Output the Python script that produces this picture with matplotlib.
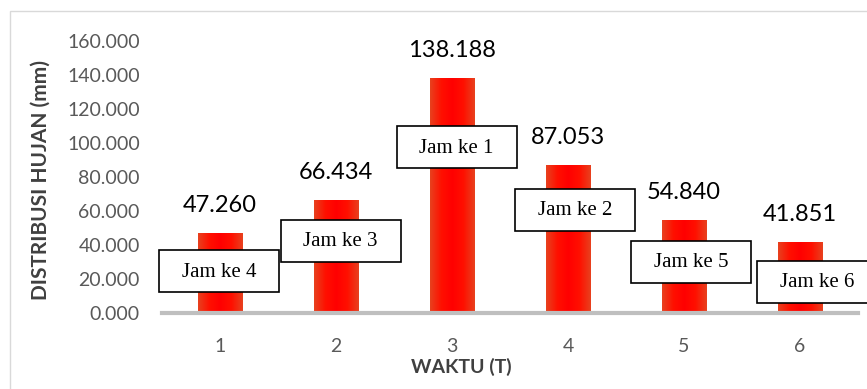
import numpy as np
import matplotlib
matplotlib.use("Agg")
from matplotlib import pyplot as plt
from matplotlib.patches import Rectangle
from matplotlib.colors import LinearSegmentedColormap

#%% data
waktu = ["1", "2", "3", "4", "5", "6"]
hujan = [47.260, 66.434, 138.188, 87.053, 54.840, 41.851]
jam_label = ["Jam ke 4", "Jam ke 3", "Jam ke 1", "Jam ke 2", "Jam ke 5", "Jam ke 6"]
# box centre (x in category units, y in mm) for each "Jam ke" tag
jam_x = [-0.01, 1.04, 2.04, 3.06, 4.06, 5.15]
jam_y = [24.5, 42.5, 97.5, 60.5, 30.0, 18.5]

plt.rcParams['font.family'] = ['Lato', 'DejaVu Sans']

#%% figure
fig = plt.figure(figsize=(8.67, 3.89), dpi=100)
fig.patches.append(Rectangle((10 / 867, -0.01), 1.0, 1 - 11 / 389 + 0.01,
                             transform=fig.transFigure, fill=False,
                             edgecolor="#D9D9D9", linewidth=1.0))
ax = fig.add_axes([162 / 867, 1 - 313 / 389, 696 / 867, 272 / 389])

x = np.arange(len(waktu))
bar_w = 0.38
bars = ax.bar(x, hujan, width=bar_w, color="none", edgecolor="none")

# red bars with darker edges
grad = LinearSegmentedColormap.from_list(
    "merah", ["#E8401E", "#FF1000", "#FF0000", "#FF1000", "#E8401E"])
row = np.linspace(0, 1, 64).reshape(1, -1)
for b in bars:
    x0, w, h = b.get_x(), b.get_width(), b.get_height()
    im = ax.imshow(row, cmap=grad, aspect="auto", extent=[x0, x0 + w, 0, h],
                   zorder=2, interpolation="bilinear")
    im.set_clip_path(b)

for xi, v in zip(x, hujan):
    ax.annotate(f"{v:.3f}", (xi, v), xytext=(0, 12), textcoords="offset points",
                ha="center", va="bottom", fontsize=17, color="black", zorder=5)

# "Jam ke" tags: fixed size white boxes
box_w = 1.035   # category units
box_h = 24.7    # mm
for xi, yi, t in zip(jam_x, jam_y, jam_label):
    ax.add_patch(Rectangle((xi - box_w / 2, yi - box_h / 2), box_w, box_h,
                           facecolor="white", edgecolor="black", linewidth=1.2,
                           zorder=6, clip_on=False))
    ax.text(xi, yi - 0.5, t, ha="center", va="center", fontsize=15,
            family=["Liberation Serif", "DejaVu Serif"], zorder=7, clip_on=False)

ax.set_xlim(-0.5, 5.5)
ax.set_ylim(0, 160)
ax.set_xticks(x)
ax.set_xticklabels(waktu)
ax.set_yticks(np.arange(0, 161, 20))
ax.set_yticklabels([f"{t:.3f}" for t in np.arange(0, 161, 20)])
ax.tick_params(axis="both", length=0, labelsize=14, colors="#595959")
ax.tick_params(axis="x", pad=18)
ax.tick_params(axis="y", pad=16)

for s in ["top", "right", "left"]:
    ax.spines[s].set_visible(False)
ax.spines["bottom"].set_color("#BFBFBF")
ax.spines["bottom"].set_linewidth(3)
ax.spines["bottom"].set_zorder(4)

ax.set_xlabel("WAKTU (T)", fontsize=14, fontweight="bold", color="#404040")
ax.xaxis.set_label_coords(0.43, -0.165)
ax.set_ylabel("DISTRIBUSI HUJAN (mm)", fontsize=15, fontweight="bold",
              color="#404040")
ax.yaxis.set_label_coords(-0.16, 0.49)

fig.savefig("out.png", dpi=100)
